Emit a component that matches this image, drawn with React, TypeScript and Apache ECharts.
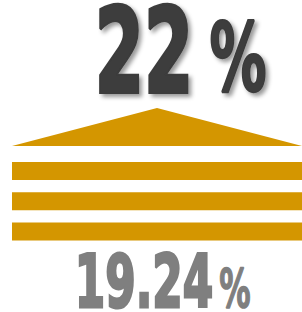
import React, { useEffect, useRef } from "react";
import * as echarts from "echarts";

const currentValue: number[] = [22];
const previousValue: number[] = [19.24];
const percentSign: string[] = ["%"];
const barRows: string[] = ["row1", "row2", "row3"];

const GOLD = "#d49600";
const FONT = "DejaVu Sans";

export default function App() {
  const ref = useRef<HTMLDivElement>(null);
  useEffect(() => {
    if (!ref.current) return;
    const chart = echarts.init(ref.current, null, { renderer: "svg" });
    const barTop = 162;
    const barH = 18;
    const barGap = 12.3;
    const bars = barRows.map((_, i) => ({
      type: "rect",
      shape: { x: 12, y: barTop + i * (barH + barGap), width: 290, height: barH },
      style: { fill: GOLD },
    }));
    const shadow = {
      textShadowColor: "rgba(0,0,0,0.4)",
      textShadowBlur: 4,
      textShadowOffsetX: 3,
      textShadowOffsetY: 3,
    };
    chart.setOption({
      animation: false,
      graphic: [
        {
          type: "text",
          x: 144,
          y: 51,
          scaleX: 0.6,
          scaleY: 1,
          style: {
            text: String(currentValue[0]),
            font: `bold 118px "${FONT}"`,
            lineHeight: 88,
            fill: "#3c3c3c",
            stroke: "#3c3c3c",
            lineWidth: 4,
            align: "center",
            verticalAlign: "middle",
            ...shadow,
          },
        },
        {
          type: "text",
          x: 238,
          y: 58,
          scaleX: 0.6,
          scaleY: 1,
          style: {
            text: percentSign[0],
            font: `bold 95px "${FONT}"`,
            lineHeight: 72,
            fill: "#3c3c3c",
            stroke: "#3c3c3c",
            lineWidth: 2.5,
            align: "center",
            verticalAlign: "middle",
            ...shadow,
          },
        },
        {
          type: "polygon",
          shape: { points: [[12, 146], [157, 108], [302, 146]] },
          style: { fill: GOLD },
        },
        ...bars,
        {
          type: "text",
          x: 144,
          y: 282,
          scaleX: 0.6,
          scaleY: 1,
          style: {
            text: String(previousValue[0]),
            font: `bold 73px "${FONT}"`,
            lineHeight: 55,
            fill: "#7f7f7f",
            stroke: "#7f7f7f",
            lineWidth: 3,
            align: "center",
            verticalAlign: "middle",
          },
        },
        {
          type: "text",
          x: 235,
          y: 288,
          scaleX: 0.58,
          scaleY: 1,
          style: {
            text: percentSign[0],
            font: `bold 54px "${FONT}"`,
            lineHeight: 42,
            fill: "#7f7f7f",
            stroke: "#7f7f7f",
            lineWidth: 1.5,
            align: "center",
            verticalAlign: "middle",
          },
        },
      ],
    });
    return () => chart.dispose();
  }, []);
  return <div ref={ref} style={{ width: 302, height: 312, position: "absolute", left: 0, top: 0 }} />;
}
